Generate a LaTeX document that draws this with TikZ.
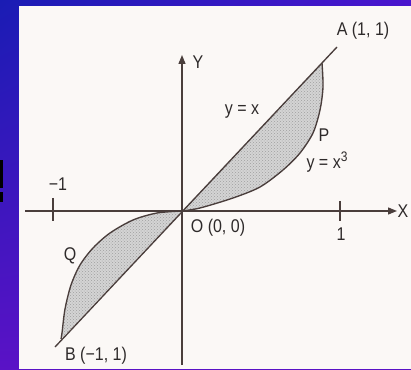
\documentclass[tikz,border=0pt]{standalone}
\usepackage{fontspec}
\setmainfont{Liberation Sans}
\usetikzlibrary{arrows.meta,patterns,shadings}
\definecolor{bgA}{HTML}{1A1CB4}
\definecolor{bgB}{HTML}{4A16CE}
\definecolor{bgC}{HTML}{5A12C6}
\definecolor{paper}{HTML}{FBF8F6}
\definecolor{ink}{HTML}{4A3E3C}
\definecolor{txt}{HTML}{2E2A2A}
\tikzset{
  curve/.style={draw=ink, line width=1.35pt},
  axis/.style={draw=ink, line width=1.35pt, -{Triangle[length=9pt,width=7pt]}},
  lbl/.style={text=txt, font=\fontsize{16}{18}\selectfont, inner sep=0pt, yscale=1.15},
  shaded/.style={fill=gray!34}
}
\begin{document}
\begin{tikzpicture}[x=1pt,y=1pt]
\useasboundingbox (0,0) rectangle (411,369);
% background
\shade[upper left=bgA, upper right=bgB, lower left=bgC, lower right=bgC] (0,0) rectangle (411,369);
\fill[black] (0,181) rectangle (3.3,209);
\fill[black] (0,167) rectangle (2.7,177);
\fill[paper] (19,0) rectangle (411,363);
% key points
\coordinate (O) at (182,158);
\coordinate (A) at (322,306);
\coordinate (B) at (61,30);
\coordinate (L1) at (55,22);
\coordinate (L2) at (337,322);
\coordinate (Xs) at (25,158);
\coordinate (Xe) at (397,158);
\coordinate (Ys) at (182,4);
\coordinate (Ye) at (182,314);
% shaded regions
\fill[shaded] (O) -- (A) plot[smooth] coordinates {(322,306) (323,282) (320,259) (313,236) (300,216) (283,199) (260,182) (233,171) (200,161) (182,158)} -- cycle;
\fill[shaded] (O) -- (B) plot[smooth] coordinates {(61,30) (62,36) (65,60) (71,84) (80,104) (93,121) (110,136) (133,149) (157,156) (182,158)} -- cycle;
\pattern[pattern=crosshatch dots, pattern color=gray!75] (O) -- (A) plot[smooth] coordinates {(322,306) (323,282) (320,259) (313,236) (300,216) (283,199) (260,182) (233,171) (200,161) (182,158)} -- cycle;
\pattern[pattern=crosshatch dots, pattern color=gray!75] (O) -- (B) plot[smooth] coordinates {(61,30) (62,36) (65,60) (71,84) (80,104) (93,121) (110,136) (133,149) (157,156) (182,158)} -- cycle;
% axes
\draw[axis] (Xs) -- (Xe);
\draw[axis] (Ys) -- (Ye);
\draw[curve] (53,171) -- (53,148);
\draw[curve] (340,168) -- (340,148);
% line y = x
\draw[curve] (L1) -- (L2);
% curve y = x^3
\draw[curve] plot[smooth] coordinates {(322,306) (323,282) (320,259) (313,236) (300,216) (283,199) (260,182) (233,171) (200,161) (182,158)};
\draw[curve] plot[smooth] coordinates {(61,30) (62,36) (65,60) (71,84) (80,104) (93,121) (110,136) (133,149) (157,156) (182,158)};
% labels
\node[lbl] (lA) at (363,338) {A (1, 1)};
\node[lbl] (lY) at (198,307) {Y};
\node[lbl] (lyx) at (242,257) {y = x};
\node[lbl] (lP) at (324,234) {P};
\node[lbl] (lyx3) at (327,207) {y = x\raisebox{5.5pt}{\fontsize{12}{13}\selectfont 3}};
\node[lbl] (lm1) at (58,185) {−1};
\node[lbl] (lX) at (403,158) {X};
\node[lbl] (lO) at (218,141) {O (0, 0)};
\node[lbl] (l1) at (341,135) {1};
\node[lbl] (lQ) at (70,113) {Q};
\node[lbl] (lB) at (96,13) {B (−1, 1)};
\end{tikzpicture}
\end{document}
